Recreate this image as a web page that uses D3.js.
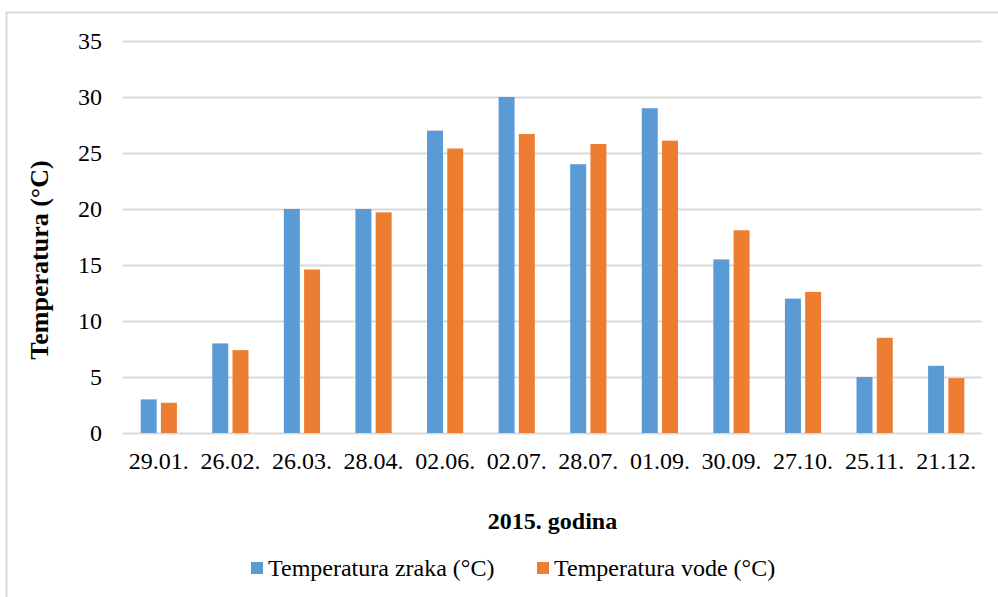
<!DOCTYPE html>
<html lang="hr">
<head>
    <meta charset="UTF-8">
    <title>Temperatura 2015</title>
    <style>
        body { margin: 0; background: #fff; }
        .grid line { stroke: #d9d9d9; stroke-width: 2; }
        .grid .domain { display: none; }
    </style>
</head>
<body>
    <div id="chart"></div>

    <script src="https://d3js.org/d3.v7.min.js"></script>
    <script>
        // Data
        const dates = ['29.01.', '26.02.', '26.03.', '28.04.', '02.06.', '02.07.',
                       '28.07.', '01.09.', '30.09.', '27.10.', '25.11.', '21.12.'];
        const airTemp = [3, 8, 20, 20, 27, 30, 24, 29, 15.5, 12, 5, 6];
        const waterTemp = [2.7, 7.4, 14.6, 19.7, 25.4, 26.7, 25.8, 26.1, 18.1, 12.6, 8.5, 4.9];
        const seriesNames = ['Temperatura zraka (°C)', 'Temperatura vode (°C)'];
        const colors = ['#5b9bd5', '#ed7d31'];
        const yTicks = [0, 5, 10, 15, 20, 25, 30, 35];

        const width = 998, height = 597;
        const margin = { top: 41, right: 16, bottom: 164, left: 123 };
        const serif = "'Liberation Serif', 'Times New Roman', Times, serif";

        const svg = d3.select('#chart')
            .append('svg')
            .attr('width', width)
            .attr('height', height)
            .attr('font-family', serif);

        // chart border (only left and top edges show in the crop)
        svg.append('rect')
            .attr('x', 6.5)
            .attr('y', 12.5)
            .attr('width', width + 20)
            .attr('height', height + 20)
            .attr('fill', 'none')
            .attr('stroke', '#d9d9d9')
            .attr('stroke-width', 2);

        const x0 = d3.scaleBand()
            .domain(dates)
            .range([margin.left, width - margin.right]);

        const x1 = d3.scaleBand()
            .domain([0, 1])
            .range([x0.bandwidth() * 0.247, x0.bandwidth() * 0.753])
            .paddingInner(0.21);

        const y = d3.scaleLinear()
            .domain([0, 35])
            .range([height - margin.bottom, margin.top]);

        // gridlines
        svg.append('g')
            .attr('class', 'grid')
            .attr('transform', `translate(${margin.left},0)`)
            .call(d3.axisLeft(y)
                .tickValues(yTicks)
                .tickSize(-(width - margin.left - margin.right))
                .tickFormat(''));

        // y tick labels
        svg.append('g')
            .selectAll('text')
            .data(yTicks)
            .join('text')
            .attr('x', 102)
            .attr('y', d => y(d))
            .attr('dy', '0.33em')
            .attr('text-anchor', 'end')
            .attr('font-size', 24)
            .text(d => d);

        // bars
        const groups = svg.append('g')
            .selectAll('g')
            .data(dates)
            .join('g')
            .attr('transform', d => `translate(${x0(d)},0)`);

        groups.selectAll('rect')
            .data((d, i) => [airTemp[i], waterTemp[i]])
            .join('rect')
            .attr('x', (d, j) => x1(j))
            .attr('y', d => y(d))
            .attr('width', x1.bandwidth())
            .attr('height', d => y(0) - y(d))
            .attr('fill', (d, j) => colors[j]);

        // x tick labels
        svg.append('g')
            .selectAll('text')
            .data(dates)
            .join('text')
            .attr('x', d => x0(d) + x0.bandwidth() / 2)
            .attr('y', 469)
            .attr('text-anchor', 'middle')
            .attr('font-size', 24)
            .text(d => d);

        // axis titles
        svg.append('text')
            .attr('transform', `translate(48,260) rotate(-90)`)
            .attr('text-anchor', 'middle')
            .attr('font-size', 26)
            .attr('font-weight', 'bold')
            .text('Temperatura (°C)');

        svg.append('text')
            .attr('x', (margin.left + width - margin.right) / 2)
            .attr('y', 529)
            .attr('text-anchor', 'middle')
            .attr('font-size', 24)
            .attr('font-weight', 'bold')
            .text('2015. godina');

        // legend
        const legendX = [251, 537];
        const legend = svg.append('g')
            .selectAll('g')
            .data(seriesNames)
            .join('g')
            .attr('transform', (d, i) => `translate(${legendX[i]},562)`);

        legend.append('rect')
            .attr('width', 12)
            .attr('height', 12)
            .attr('fill', (d, i) => colors[i]);

        legend.append('text')
            .attr('x', 17)
            .attr('y', 14)
            .attr('font-size', 24)
            .text(d => d);
    </script>
</body>
</html>
